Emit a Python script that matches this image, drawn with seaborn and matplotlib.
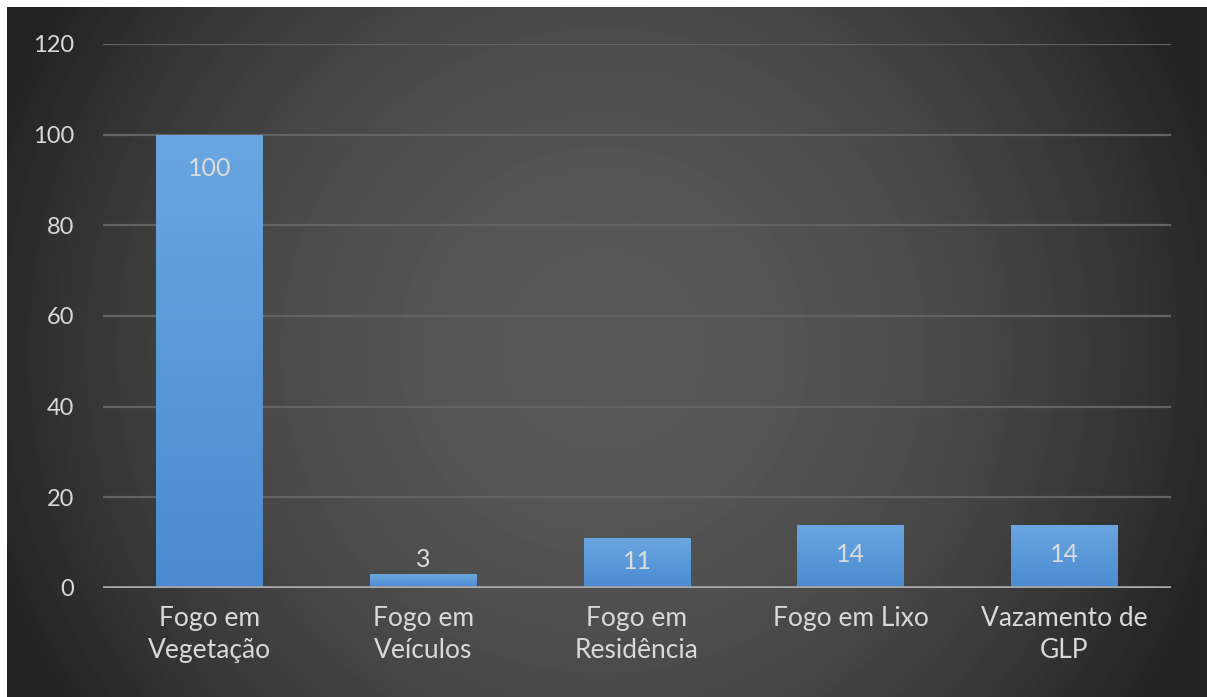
import numpy as np
import pandas as pd
import matplotlib
matplotlib.use("Agg")
import matplotlib.pyplot as plt
import seaborn as sns

# Occurrence types and their counts
categories = ["Fogo em\nVegetação", "Fogo em\nVeículos", "Fogo em\nResidência",
              "Fogo em Lixo", "Vazamento de\nGLP"]
counts = [100, 3, 11, 14, 14]
y_ticks = [0, 20, 40, 60, 80, 100, 120]

sns.set_theme(style="dark")
plt.rcParams["font.family"] = ["Lato", "DejaVu Sans"]

W, H, DPI = 1207, 697, 100
fig = plt.figure(figsize=(W / DPI, H / DPI), dpi=DPI, facecolor="white")

# Dark radial backdrop of the chart area
bg = fig.add_axes([7 / W, 0, (W - 7) / W, (H - 7) / H])
bw, bh = W - 7, H - 7
yy, xx = np.mgrid[0:bh, 0:bw]
cx, cy = 596, 343
r2 = ((xx - cx) ** 2 + (yy - cy) ** 2) / 600.0 ** 2
level = np.clip(88 - 46 * r2, 34, 88) / 255.0
bg.imshow(level, cmap="gray", vmin=0, vmax=1, aspect="auto", interpolation="bilinear")
bg.axis("off")

ax = fig.add_axes([103 / W, 109 / H, (1171 - 103) / W, (653 - 109) / H])
ax.set_facecolor("none")

df = pd.DataFrame({"tipo": categories, "n": counts})
sns.barplot(data=df, x="tipo", y="n", width=0.5, color="#5b9bd5",
            saturation=1, linewidth=0, ax=ax, zorder=3)

# Vertical blue gradient inside each bar
grad = np.linspace(0, 1, 256).reshape(-1, 1)
cmap = matplotlib.colors.LinearSegmentedColormap.from_list(
    "barfill", ["#4a8bcf", "#6aa6e1"])
for p in ax.patches:
    x0, y0 = p.get_x(), p.get_y()
    x1, y1 = x0 + p.get_width(), y0 + p.get_height()
    im = ax.imshow(grad, cmap=cmap, extent=[x0, x1, y0, y1], origin="lower",
                   aspect="auto", zorder=3, interpolation="bilinear")
    im.set_clip_path(p)

ax.set_xlim(-0.5, len(categories) - 0.5)
ax.set_ylim(0, 120)
ax.set_yticks(y_ticks)
ax.set_yticklabels([str(t) for t in y_ticks])
ax.set_axisbelow(True)
ax.yaxis.grid(True, color="#636363", lw=1.6)
ax.xaxis.grid(False)
ax.axhline(0, color="#a8a8a8", lw=2.6, zorder=4)
for s in ax.spines.values():
    s.set_visible(False)

ax.set_xlabel("")
ax.set_ylabel("")
ax.tick_params(axis="y", colors="#d9d9d9", labelsize=17, length=0, pad=21)
ax.tick_params(axis="x", colors="#d9d9d9", labelsize=19, length=0, pad=13)
for lab in ax.get_xticklabels():
    lab.set_linespacing(1.35)

# Value labels: inside the bar near its top, or above when the bar is short
px_per_unit = ax.transData.transform((0, 1))[1] - ax.transData.transform((0, 0))[1]
for i, v in enumerate(counts):
    h = v * px_per_unit
    dy = 15 if h < 30 else -min(34, 0.47 * h)
    ax.annotate(str(v), (i, v), xytext=(0, dy), textcoords="offset pixels",
                ha="center", va="center", fontsize=18, color="#dcdcdc", zorder=5)

fig.savefig("out.png", dpi=DPI, facecolor="white")
